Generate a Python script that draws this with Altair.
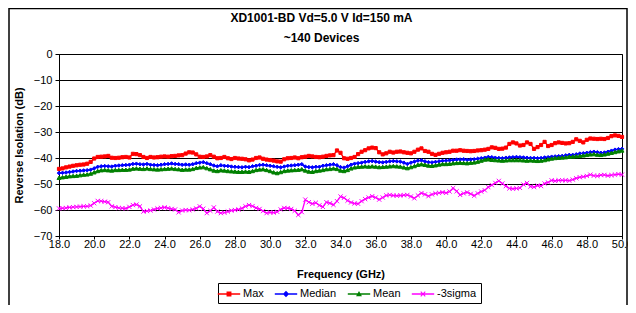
import altair as alt
import pandas as pd

FONT = "Liberation Sans, Arial, sans-serif"

series_names = ["Max", "Median", "Mean", "-3sigma"]
series_colors = ["#FF0000", "#0000FF", "#008000", "#FF00FF"]

# frequency sweep 18.0 .. 50.0 GHz, 0.2 GHz step
freq = [round(18.0 + 0.2 * i, 1) for i in range(161)]

max_db = [
    -44.2, -44.0, -43.6, -43.3, -43.0, -42.8, -42.6, -42.5, -42.2, -41.5,
    -40.2, -39.6, -39.5, -39.4, -39.2, -39.9, -40.0, -39.9, -39.7, -39.6,
    -39.8, -38.4, -38.5, -38.9, -39.6, -40.0, -39.6, -39.8, -39.7, -39.5,
    -39.4, -39.5, -39.3, -39.2, -39.0, -38.9, -38.3, -37.8, -37.9, -38.6,
    -39.5, -39.6, -39.4, -38.9, -39.5, -40.1, -40.0, -39.6, -40.1, -40.4,
    -40.0, -40.2, -40.3, -40.5, -40.9, -40.6, -40.0, -39.8, -40.3, -40.6,
    -40.8, -41.0, -41.3, -41.4, -40.5, -40.1, -40.0, -39.8, -40.1, -39.7,
    -39.5, -39.2, -39.4, -39.6, -39.7, -39.5, -39.2, -39.0, -38.9, -37.1,
    -38.0, -40.1, -40.3, -40.0, -39.6, -38.5, -37.6, -37.0, -36.3, -36.0,
    -36.2, -37.8, -38.6, -38.2, -37.6, -37.9, -37.6, -37.5, -37.8, -38.0,
    -38.2, -37.6, -36.8, -36.3, -37.3, -37.6, -38.4, -38.8, -38.4, -38.0,
    -37.8, -37.6, -37.2, -37.2, -37.0, -37.2, -37.3, -37.4, -37.3, -37.1,
    -37.0, -36.8, -36.5, -35.9, -36.1, -36.5, -36.4, -36.0, -34.6, -34.0,
    -34.4, -35.2, -35.0, -34.0, -34.6, -36.5, -35.8, -35.0, -33.8, -35.4,
    -35.0, -34.3, -34.0, -34.2, -34.4, -34.3, -33.8, -32.8, -33.4, -34.0,
    -33.0, -32.5, -32.6, -32.7, -32.6, -32.7, -32.3, -31.6, -31.3, -31.5,
    -31.9,
]

median_db = [
    -45.8, -45.7, -45.6, -45.4, -45.2, -45.0, -44.9, -44.8, -44.7, -44.5,
    -44.0, -43.4, -43.2, -43.1, -43.2, -43.3, -43.0, -42.9, -42.8, -42.7,
    -42.6, -42.3, -42.2, -42.4, -42.5, -42.3, -42.6, -42.7, -42.8, -42.6,
    -42.4, -42.3, -42.1, -42.3, -42.4, -42.6, -42.5, -42.6, -42.4, -42.0,
    -41.8, -41.6, -42.0, -42.4, -42.9, -43.2, -42.8, -43.0, -43.1, -43.3,
    -43.4, -43.5, -43.6, -43.4, -43.5, -43.2, -43.0, -42.7, -42.6, -42.8,
    -43.0, -43.2, -43.4, -43.6, -43.3, -43.0, -42.9, -42.8, -42.6, -42.4,
    -43.3, -43.5, -43.6, -43.4, -43.4, -43.0, -42.8, -42.6, -42.4, -42.8,
    -43.5, -43.7, -43.2, -42.6, -42.2, -42.0, -41.8, -41.5, -41.3, -41.2,
    -41.4, -41.6, -41.7, -41.5, -41.3, -41.2, -41.3, -41.4, -41.8, -42.3,
    -41.8, -41.4, -41.0, -40.9, -41.3, -41.6, -41.7, -41.5, -41.3, -41.1,
    -41.0, -40.9, -40.8, -40.6, -40.6, -40.5, -40.7, -40.6, -40.5, -40.3,
    -40.1, -39.9, -39.6, -39.7, -39.9, -40.0, -40.1, -39.9, -39.8, -39.7,
    -39.6, -39.7, -39.8, -39.9, -40.0, -40.0, -40.1, -40.0, -39.8, -39.7,
    -39.5, -39.4, -39.3, -39.2, -39.0, -38.8, -38.8, -38.6, -38.3, -38.2,
    -38.0, -37.8, -37.6, -37.8, -38.0, -37.9, -37.6, -37.2, -36.8, -36.6,
    -36.5,
]

mean_db = [
    -47.6, -47.4, -47.2, -47.0, -46.9, -46.8, -46.6, -46.4, -46.3, -46.0,
    -45.5, -45.0, -44.7, -44.6, -44.7, -44.8, -44.6, -44.6, -44.5, -44.5,
    -44.4, -44.1, -44.0, -44.1, -44.2, -44.0, -44.2, -44.3, -44.4, -44.3,
    -44.2, -44.1, -44.0, -44.2, -44.3, -44.5, -44.4, -44.4, -44.2, -43.8,
    -43.6, -43.5, -43.9, -44.3, -44.8, -45.0, -44.7, -44.8, -45.0, -45.1,
    -45.2, -45.3, -45.3, -45.2, -45.3, -45.0, -44.6, -44.4, -44.3, -44.6,
    -45.0, -45.5, -45.8, -45.4, -45.0, -44.8, -44.7, -44.6, -44.5, -44.3,
    -44.8, -45.2, -45.3, -45.0, -44.8, -44.6, -44.3, -44.2, -44.0, -44.2,
    -44.8, -45.0, -44.6, -44.0, -43.6, -43.4, -43.3, -43.2, -43.3, -43.2,
    -43.3, -43.5, -43.4, -43.3, -43.2, -43.1, -43.2, -43.3, -43.6, -43.9,
    -43.5, -43.1, -42.6, -42.4, -42.6, -42.9, -43.0, -42.8, -42.5, -42.3,
    -42.3, -42.2, -42.0, -41.9, -41.8, -41.9, -42.0, -41.8, -41.7, -41.4,
    -41.0, -40.6, -40.5, -40.7, -40.8, -40.9, -41.0, -40.9, -40.8, -40.8,
    -40.8, -40.8, -40.9, -41.0, -40.9, -41.0, -41.1, -41.0, -40.8, -40.5,
    -40.2, -40.0, -39.9, -39.8, -39.7, -39.5, -39.4, -39.3, -39.2, -39.0,
    -38.8, -38.6, -38.5, -38.7, -38.8, -38.6, -38.3, -38.0, -37.7, -37.4,
    -37.1,
]

sigma3_db = [
    -59.4, -59.3, -59.2, -59.0, -58.9, -58.8, -58.7, -58.6, -58.6, -58.3,
    -57.4, -56.5, -56.6, -56.8, -57.0, -58.6, -58.9, -59.2, -59.3, -59.4,
    -58.8, -58.1, -57.9, -58.6, -60.6, -60.4, -60.2, -59.8, -59.4, -59.2,
    -59.0, -59.3, -59.6, -59.8, -60.9, -60.2, -60.0, -60.1, -59.8, -59.4,
    -58.6, -59.5, -61.2, -60.3, -59.0, -60.6, -61.2, -61.0, -60.6, -60.2,
    -60.0, -59.8, -59.4, -58.6, -58.1, -58.5, -59.2, -59.6, -60.4, -61.2,
    -60.9, -61.0, -60.7, -59.8, -59.2, -59.3, -59.6, -60.3, -61.9, -60.8,
    -56.0, -57.0, -57.6, -57.2, -58.2, -58.8, -57.0, -57.4, -58.0, -56.6,
    -54.8, -55.3, -56.4, -57.1, -57.5, -57.6, -56.6, -55.8, -55.2, -54.7,
    -55.2, -56.0, -55.2, -54.4, -54.2, -54.4, -54.5, -54.4, -54.3, -54.2,
    -54.8, -55.5, -54.4, -53.5, -54.0, -54.7, -54.0, -53.6, -53.4, -53.2,
    -53.4, -52.9, -51.6, -52.8, -54.2, -53.6, -53.2, -53.8, -54.5, -53.6,
    -52.9, -52.4, -51.2, -50.4, -49.6, -48.8, -49.8, -50.8, -51.7, -51.8,
    -51.7, -51.5, -50.2, -49.6, -51.0, -51.2, -50.6, -50.8, -49.8, -49.4,
    -48.6, -48.8, -48.6, -48.6, -48.6, -48.7, -48.3, -47.8, -47.4, -47.2,
    -46.9, -46.4, -46.8, -46.9, -46.6, -46.5, -46.8, -46.6, -46.4, -46.2,
    -46.4,
]

x_ticks = [18, 20, 22, 24, 26, 28, 30, 32, 34, 36, 38, 40, 42, 44, 46, 48, 50]
y_ticks = [0, -10, -20, -30, -40, -50, -60, -70]

title_lines = ["XD1001-BD  Vd=5.0 V Id=150 mA", "~140 Devices"]

frames = []
for name, vals in zip(series_names, [max_db, median_db, mean_db, sigma3_db]):
    frames.append(pd.DataFrame({"freq": freq, "value": vals, "series": name}))
df = pd.concat(frames, ignore_index=True)

X_PATH = "M-1,-1L1,1M-1,1L1,-1"
plot_shapes = ["square", "diamond", "triangle-up", X_PATH]
plot_sizes = [10, 18, 16, 20]

# legend symbols: line segment + marker (filled paths), unit = 7 px
LINE = "M-1.6,-0.1H1.6V0.1H-1.6Z"
legend_shapes = [
    LINE + "M-0.35,-0.35H0.35V0.35H-0.35Z",
    LINE + "M0,-0.45L0.45,0L0,0.45L-0.45,0Z",
    LINE + "M0,-0.42L0.42,0.33H-0.42Z",
    LINE + "M-0.38,-0.27L-0.27,-0.38L0.38,0.27L0.27,0.38Z"
           "M-0.27,0.38L-0.38,0.27L0.27,-0.38L0.38,-0.27Z",
]

x_enc = alt.X(
    "freq:Q",
    scale=alt.Scale(domain=[18, 50], nice=False, zero=False),
    axis=alt.Axis(values=x_ticks, format=".1f", title="Frequency (GHz)", grid=False,
                  tickSize=3, labelPadding=-1, titlePadding=19, labelFlush=False),
)
y_enc = alt.Y(
    "value:Q",
    scale=alt.Scale(domain=[-70, 0], nice=False, zero=False),
    axis=alt.Axis(values=y_ticks, title="Reverse Isolation (dB)", grid=True,
                  tickSize=4, labelPadding=3, titlePadding=9),
)

base = alt.Chart(df).encode(
    x=x_enc,
    y=y_enc,
    color=alt.Color("series:N", scale=alt.Scale(domain=series_names, range=series_colors), legend=None),
)

lines = base.mark_line(strokeWidth=1.4)

points = base.mark_point(filled=True, opacity=1, strokeWidth=1).encode(
    shape=alt.Shape("series:N", scale=alt.Scale(domain=series_names, range=plot_shapes), legend=None),
    stroke=alt.Stroke("series:N", scale=alt.Scale(domain=series_names, range=series_colors), legend=None),
    size=alt.Size("series:N", scale=alt.Scale(domain=series_names, range=plot_sizes), legend=None),
)

legend_def = alt.Legend(
    title=None, orient="none", legendX=159, legendY=229, direction="horizontal",
    symbolSize=196, symbolStrokeWidth=0, labelFont=FONT, labelFontSize=11,
    labelColor="black", strokeColor="black", fillColor="white", padding=4,
    columnPadding=10, labelOffset=7,
)

legend_layer = alt.Chart(df).transform_filter("false").mark_point(filled=True, opacity=1).encode(
    color=alt.Color("series:N", scale=alt.Scale(domain=series_names, range=series_colors), legend=legend_def),
    shape=alt.Shape("series:N", scale=alt.Scale(domain=series_names, range=legend_shapes), legend=legend_def),
)

frame_src = alt.Chart(pd.DataFrame({"k": [0]}))
border_left = frame_src.mark_rule(color="black", strokeWidth=1.5).encode(
    x=alt.value(-50), y=alt.value(-46), y2=alt.value(251))
border_top = frame_src.mark_rule(color="black", strokeWidth=1.5).encode(
    x=alt.value(-50), x2=alt.value(568), y=alt.value(-45.5))
border_right = frame_src.mark_rule(color="black", strokeWidth=1.5).encode(
    x=alt.value(568), y=alt.value(-46), y2=alt.value(251))

chart = alt.layer(
    lines, points, legend_layer, border_left, border_top, border_right
).resolve_scale(
    shape="independent", color="independent"
).properties(
    width=563,
    height=182,
    title=alt.TitleParams(
        text=title_lines, font=FONT, fontSize=12, fontWeight="bold", color="black",
        anchor="middle", dx=-19, offset=-38, lineHeight=20, frame="group",
    ),
    padding={"left": 51, "top": 46, "right": 6, "bottom": 69},
    autosize=alt.AutoSizeParams(type="none"),
    background="white",
).configure_view(
    stroke="black", strokeWidth=1
).configure_axis(
    labelFont=FONT, labelFontSize=11, labelColor="black",
    titleFont=FONT, titleFontSize=11, titleFontWeight="bold", titleColor="black",
    domainColor="black", tickColor="black", gridColor="black", gridOpacity=1, gridWidth=1.2,
)

chart.save("out.html", embed_options={"renderer": "svg", "actions": False})
